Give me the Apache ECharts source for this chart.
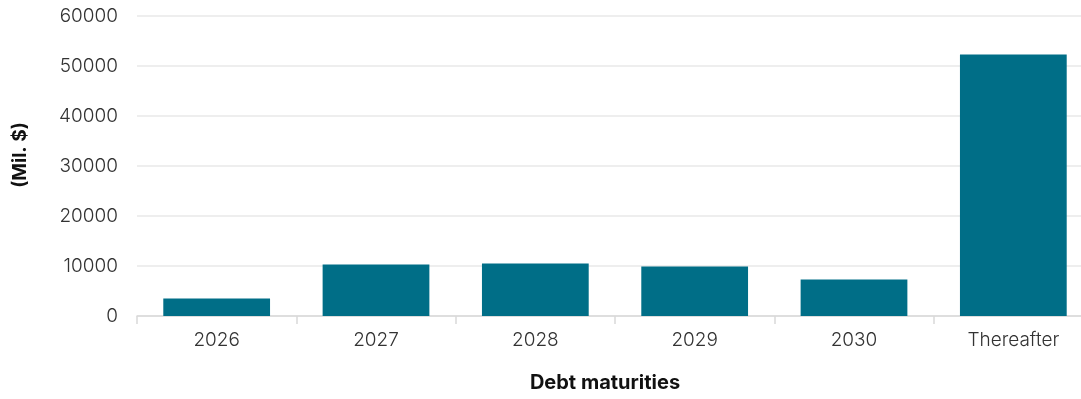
<!DOCTYPE html>
<html>
<head>
<meta charset="utf-8">
<script src="https://cdn.jsdelivr.net/npm/echarts@6/dist/echarts.min.js"></script>
<style>
  html, body { margin: 0; padding: 0; background: #fff; overflow: hidden; }
  /* canvas is a little wider than the window so the plot runs off the right edge */
  #chart { width: 1093px; height: 399px; }
</style>
</head>
<body>
<div id="chart"></div>
<script>
// Debt maturities by year (millions of dollars)
const categories = ['2026', '2027', '2028', '2029', '2030', 'Thereafter'];
const maturities = [3500, 10300, 10500, 9900, 7300, 52300];
const yTicks = [0, 10000, 20000, 30000, 40000, 50000, 60000];

const chart = echarts.init(document.getElementById('chart'), null, { renderer: 'canvas' });

chart.setOption({
  animation: false,
  backgroundColor: '#ffffff',
  grid: { left: 137, right: 0, top: 16, height: 300, containLabel: false },
  xAxis: {
    type: 'category',
    data: categories,
    axisLine: { lineStyle: { color: '#d9d9d9', width: 1.5 } },
    axisTick: { show: true, length: 8, lineStyle: { color: '#d9d9d9', width: 1.5 } },
    axisLabel: { color: '#333333', fontFamily: 'Inter', fontSize: 19, fontWeight: 300, margin: 15 }
  },
  yAxis: {
    type: 'value',
    min: yTicks[0],
    max: yTicks[yTicks.length - 1],
    interval: yTicks[1] - yTicks[0],
    axisLine: { show: false },
    axisTick: { show: false },
    splitLine: { lineStyle: { color: '#e8e8e8', width: 1.5 } },
    axisLabel: {
      color: '#333333', fontFamily: 'Inter', fontSize: 19, fontWeight: 300, margin: 19,
      formatter: v => String(v)
    }
  },
  graphic: [{
    type: 'text',
    x: 605,
    y: 383,
    style: { text: 'Debt maturities', fill: '#111111', font: 'bold 20px Inter', align: 'center', verticalAlign: 'middle' }
  }, {
    type: 'text',
    x: 20,
    y: 155,
    rotation: Math.PI / 2,
    style: { text: '(Mil. $)', fill: '#111111', font: 'bold 19px Inter', align: 'center', verticalAlign: 'middle' }
  }],
  series: [{
    type: 'bar',
    data: maturities,
    barWidth: '67%',
    itemStyle: { color: '#006e87' }
  }]
});
</script>
</body>
</html>
